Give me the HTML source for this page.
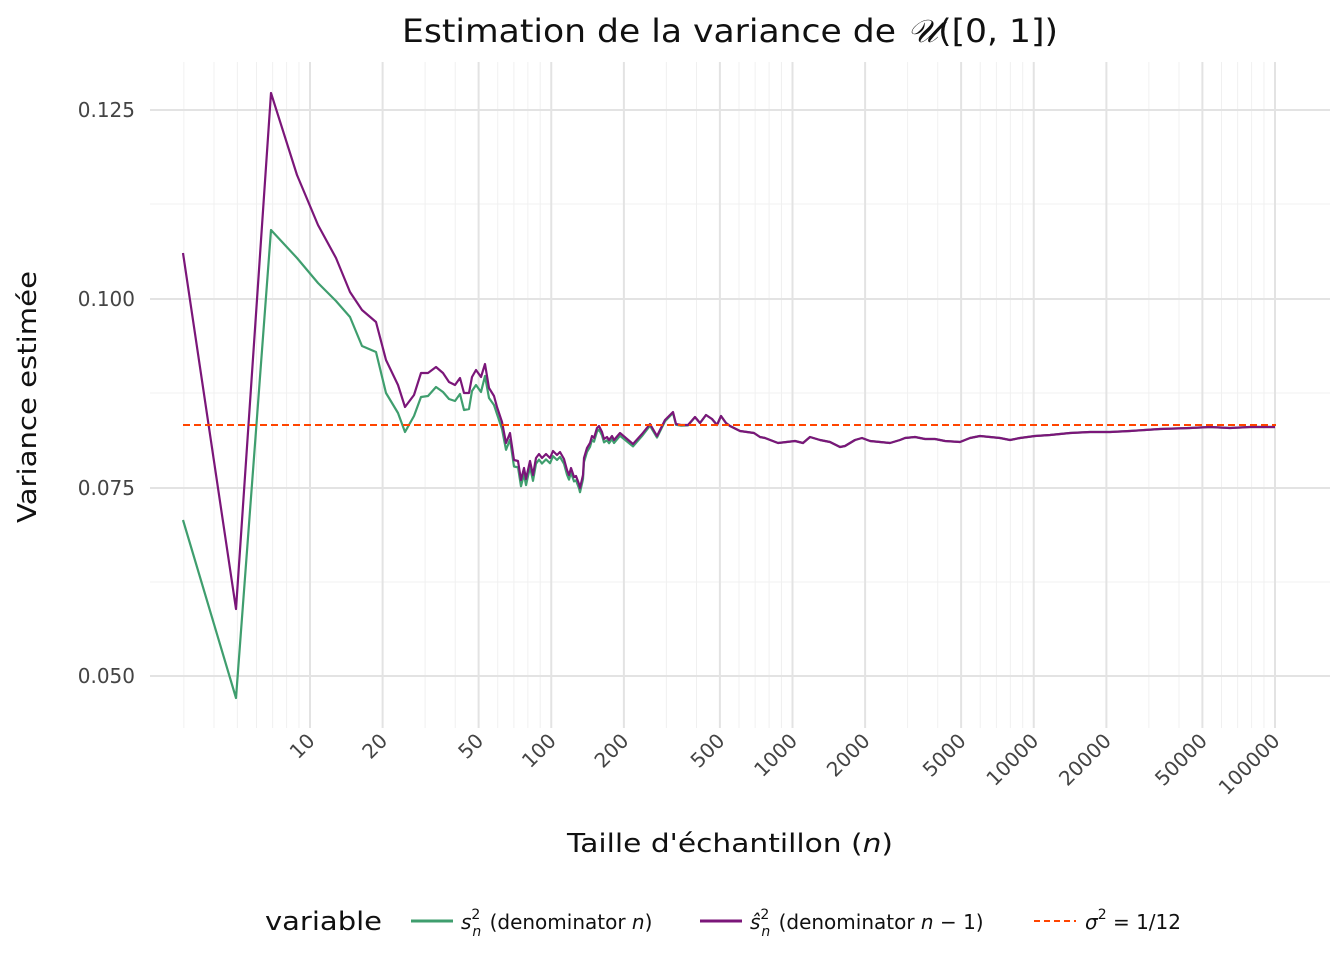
<!DOCTYPE html>
<html><head><meta charset="utf-8"><style>body{margin:0;background:#fff}svg{display:block;font-family:"DejaVu Sans","Liberation Sans",sans-serif}</style></head>
<body>
<svg id="s" width="1344" height="960" xmlns="http://www.w3.org/2000/svg">
<g id="grid"></g>
<g id="lines"></g>
<text x="402" y="42" font-size="32" textLength="656" lengthAdjust="spacingAndGlyphs" fill="#111">Estimation de la variance de <tspan font-style="italic" font-family="DejaVu Serif,serif">𝒰</tspan>([0, 1])</text>
<g font-size="20" fill="#444" text-anchor="end">
<text x="135" y="117">0.125</text><text x="135" y="306">0.100</text><text x="135" y="495">0.075</text><text x="135" y="683">0.050</text>
</g>
<g id="xt" font-size="20" fill="#444" text-anchor="end"></g>
<text x="567" y="852" font-size="26" textLength="326" lengthAdjust="spacingAndGlyphs" fill="#111">Taille d'échantillon (<tspan font-style="italic">n</tspan>)</text>
<text transform="translate(36,397) rotate(-90)" font-size="26" text-anchor="middle" textLength="252" lengthAdjust="spacingAndGlyphs" fill="#111">Variance estimée</text>
<g font-size="20" fill="#111">
<text x="265" y="930" font-size="26" textLength="117" lengthAdjust="spacingAndGlyphs">variable</text>
<line x1="411" y1="921" x2="453" y2="921" stroke="#3f9e6e" stroke-width="3"/>
<text x="461" y="929"><tspan font-style="italic">s</tspan><tspan font-size="14" dy="-10">2</tspan><tspan font-size="14" font-style="italic" dx="-8" dy="17">n</tspan><tspan dy="-7" dx="2"> (denominator </tspan><tspan font-style="italic">n</tspan>)</text>
<line x1="700" y1="921" x2="742" y2="921" stroke="#7b1679" stroke-width="3"/>
<text x="750" y="929"><tspan font-style="italic">ŝ</tspan><tspan font-size="14" dy="-10">2</tspan><tspan font-size="14" font-style="italic" dx="-8" dy="17">n</tspan><tspan dy="-7" dx="2"> (denominator </tspan><tspan font-style="italic">n</tspan> − 1)</text>
<line x1="1034" y1="921" x2="1076" y2="921" stroke="#ff4500" stroke-width="2" stroke-dasharray="6,4"/>
<text x="1085" y="929"><tspan font-style="italic">σ</tspan><tspan font-size="14" dy="-10">2</tspan><tspan dy="10"> = 1/12</tspan></text>
</g>
</svg>
<script>
const NS="http://www.w3.org/2000/svg";
function el(p,t,a){const e=document.createElementNS(NS,t);for(const k in a)e.setAttribute(k,a[k]);p.appendChild(e);return e;}
const X=n=>310+241.25*Math.log10(n/10);
const g=document.getElementById('grid');
[582,393,204].forEach(y=>el(g,'line',{x1:150,x2:1330,y1:y,y2:y,stroke:'#f2f2f2','stroke-width':1}));
for(let d=0;d<6;d++)for(let k=1;k<10;k++){const x=X(k*Math.pow(10,d));if(x<150||x>1330)continue;
 el(g,'line',{x1:x,x2:x,y1:62,y2:728,stroke:'#f0f0f0','stroke-width':1});}
[110,299,488,676].forEach(y=>el(g,'line',{x1:150,x2:1330,y1:y,y2:y,stroke:'#e3e3e3','stroke-width':2}));
const xt=document.getElementById('xt');
[10,20,50,100,200,500,1000,2000,5000,10000,20000,50000,100000].forEach(n=>{const x=X(n);
 el(g,'line',{x1:x,x2:x,y1:62,y2:728,stroke:'#e3e3e3','stroke-width':2});
 const t=el(xt,'text',{transform:`translate(${x+6},${742}) rotate(-45)`});t.textContent=n;});
const L=document.getElementById('lines');
const P=[[183,253],[236,609],[271,93],[297,175],[318,225],[336,258],[350,292],[362,310],[376,322],[386,360],[398,385],[405,407],[414,395],[421,373],[428,373],[436,367],[443,373],[449,382],[455,385],[460,378],[464,393],[469,393],[472,377],[476,370],[481,377],[485,364],[489,388],[494,396],[497,407],[502,422],[506,443],[510,433],[514,460],[518,461],[521,480],[524,468],[526,479],[530,461],[533,475],[536,458],[539,454],[542,458],[546,454],[550,458],[553,451],[557,455],[560,452],[564,459],[567,470],[569,475],[571,468],[574,477],[576,476],[579,484],[580,488],[583,475],[584,458],[587,448],[590,443],[592,436],[594,438],[597,428],[599,426],[602,432],[604,439],[607,437],[609,440],[612,436],[614,440],[620,433],[633,444],[642,434],[650,424],[657,436],[665,420],[673,412],[676,424],[681,425],[688,425],[695,417],[700,423],[706,415],[712,419],[717,425],[721,416],[726,423],[730,426],[740,431],[754,433],[760,437],[765,438],[778,443],[795,441],[803,443],[810,437],[820,440],[830,442],[840,447],[845,446],[855,440],[862,438],[870,441],[880,442],[890,443],[900,440],[905,438],[915,437],[925,439],[935,439],[945,441],[960,442],[970,438],[980,436],[990,437],[1000,438],[1010,440],[1020,438],[1035,436],[1050,435],[1070,433],[1090,432],[1110,432],[1130,431],[1160,429],[1190,428],[1210,427],[1230,428],[1250,427],[1275,427]];
const Gh=[[183,520],[236,698],[271,230],[297,258],[318,283],[336,301],[350,317],[362,346],[376,352],[386,393],[398,413],[405,432],[414,416],[421,397],[428,396],[436,387],[443,392],[449,399],[455,401],[460,394],[464,410],[469,409],[472,391],[476,385],[481,392],[485,376],[489,398],[494,405],[497,414]];
const G=Gh.concat(P.filter(p=>p[0]>497).map(p=>[p[0],p[1]+Math.max(0,7*(700-p[0])/200)]));
el(L,'polyline',{points:G.join(' '),fill:'none',stroke:'#3f9e6e','stroke-width':2.2,'stroke-linejoin':'round'});
el(L,'polyline',{points:P.join(' '),fill:'none',stroke:'#7b1679','stroke-width':2.2,'stroke-linejoin':'round'});
el(L,'line',{x1:183,x2:1276,y1:425,y2:425,stroke:'#ff4500','stroke-width':2,'stroke-dasharray':'7,4'});
</script>
</body></html>
